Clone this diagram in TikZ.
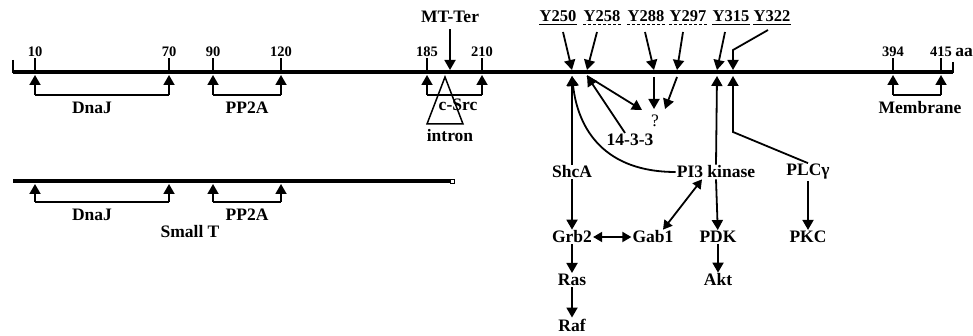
\documentclass[tikz,border=0pt]{standalone}
\usepackage{fontspec}
\setmainfont{Liberation Serif}
\usetikzlibrary{positioning, arrows.meta, calc}

\begin{document}
\begin{tikzpicture}[
    x=1pt, y=-1pt,
    lbl/.style={font=\fontsize{17.5}{19}\selectfont\bfseries, inner sep=1pt},
    tyr/.style={font=\fontsize{16.5}{18}\selectfont\bfseries, inner sep=0pt},
    num/.style={font=\fontsize{14.5}{16}\selectfont\bfseries, inner sep=1pt},
    chain/.style={line width=4pt},
    stem/.style={line width=1.8pt},
    edge/.style={stem, -{Triangle[width=11pt, length=10pt]}},
    dbl/.style={stem, {Triangle[width=10pt, length=9pt]}-{Triangle[width=10pt, length=9pt]}},
    uline/.style={line width=1.2pt},
    dline/.style={uline, dash pattern=on 3pt off 2pt}
]
\useasboundingbox (0,0) rectangle (973,336);

% ================= MIDDLE T =================
\coordinate (mL) at (13,72);
\coordinate (mR) at (953,72);
\draw[chain] (mL) -- (mR);
\draw[stem] ([yshift=12pt]mL) -- ([yshift=-1pt]mL);
\draw[stem] ([yshift=10pt]mR) -- ([yshift=-1pt]mR);

\foreach \n/\x in {10/35, 70/169, 90/213, 120/281, 185/427, 210/482, 394/893, 415/941} {
    \node[num] (n\n) at (\x,52) {\n};
    \coordinate (t\n) at (\x,75);
    \coordinate (b\n) at (\x,95);
    \draw[stem] (n\n.south) -- (\x,72);
    \draw[edge] (b\n) -- (t\n);
}
\node[lbl, right=1pt of n415] (aa) {aa};

\draw[stem] (b10) -- (b70);
\draw[stem] (b90) -- (b120);
\draw[stem] (b185) -- (b210);
\draw[stem] (b394) -- (b415);
\node[lbl] (dnaj) at (92,108) {DnaJ};
\node[lbl] (pp2a) at (247,108) {PP2A};
\node[lbl] (csrc) at (458,105) {c-Src};
\node[lbl] (membr) at (920,108) {Membrane};

% intron
\coordinate (iA) at (445,77);
\coordinate (iB) at (427,124);
\coordinate (iC) at (463,124);
\draw[stem, line width=1.5pt] (iA) -- (iB) -- (iC) -- cycle;
\node[lbl] (intron) at (450,136) {intron};

\node[lbl] (mtter) at (450,17) {MT-Ter};
\coordinate (tmt) at (450,70);
\draw[edge] ([yshift=-5pt]mtter.south) -- (tmt);

% tyrosines
\node[tyr] (y250) at (558,16) {Y250};
\node[tyr] (y258) at (602,16) {Y258};
\node[tyr] (y288) at (646,16) {Y288};
\node[tyr] (y297) at (688,16) {Y297};
\node[tyr] (y315) at (731,16) {Y315};
\node[tyr] (y322) at (772,16) {Y322};
\draw[uline] ([yshift=-3pt]y250.south west) -- ([yshift=-3pt]y250.south east);
\draw[dline] ([yshift=-3pt]y258.south west) -- ([yshift=-3pt]y258.south east);
\draw[dline] ([yshift=-3pt]y288.south west) -- ([yshift=-3pt]y288.south east);
\draw[dline] ([yshift=-3pt]y297.south west) -- ([yshift=-3pt]y297.south east);
\draw[uline] ([yshift=-3pt]y315.south west) -- ([yshift=-3pt]y315.south east);
\draw[uline] ([yshift=-3pt]y322.south west) -- ([yshift=-3pt]y322.south east);

\coordinate (s250) at (563,32);  \coordinate (u250) at (572,70);
\coordinate (s258) at (597,32);  \coordinate (u258) at (587,70);
\coordinate (s288) at (645,32);  \coordinate (u288) at (654,70);
\coordinate (s297) at (683,32);  \coordinate (u297) at (677,70);
\coordinate (s315) at (725,32);  \coordinate (u315) at (717,70);
\coordinate (s322) at (768,30);  \coordinate (k322a) at (733,50);
\coordinate (u322) at (733,70);
\draw[edge] (s250) -- (u250);
\draw[edge] (s258) -- (u258);
\draw[edge] (s288) -- (u288);
\draw[edge] (s297) -- (u297);
\draw[edge] (s315) -- (u315);
\draw[edge] (s322) -- (k322a) -- (u322);

% ================= SIGNALLING =================
\coordinate (t250) at (572,76);
\coordinate (t258) at (587,76);
\coordinate (t315) at (717,76);
\coordinate (t322) at (733,76);
\coordinate (k322) at (733,132);
\coordinate (d288) at (654,77);
\coordinate (d297) at (677,77);
\coordinate (q1) at (642,110);
\coordinate (q2) at (654,109);
\coordinate (q3) at (665,109);

\node[lbl] (shca) at (572,172) {ShcA};
\node[lbl] (pi3) at (716,172) {PI3 kinase};
\node[lbl] (plcg) at (808,172) {PLCγ};
\node[lbl] (k1433) at (630,140) {14-3-3};
\node[font=\fontsize{17.5}{19}\selectfont, inner sep=1pt] (qm) at (655,121) {?};
\node[lbl] (grb2) at (572,237) {Grb2};
\node[lbl] (gab1) at (653,237) {Gab1};
\node[lbl] (pdk) at (718,237) {PDK};
\node[lbl] (pkc) at (808,237) {PKC};
\node[lbl] (ras) at (572,280) {Ras};
\node[lbl] (akt) at (718,280) {Akt};
\node[lbl] (raf) at (572,325) {Raf};

\draw[edge] (shca) -- (t250);
\draw[edge] (pi3.west) .. controls (605,172) and (578,130) .. (t250);
\draw[edge] ([xshift=-5pt]k1433.north) -- (t258);
\draw[edge] (t258) -- (q1);
\draw[edge] (d288) -- (q2);
\draw[edge] (d297) -- (q3);
\draw[edge] (pi3.north) -- (t315);
\draw[edge] (plcg.north) -- (k322) -- (t322);

\draw[edge] (shca) -- (grb2);
\draw[dbl] (grb2) -- (gab1);
\draw[dbl] ([xshift=10pt]gab1.north) -- ([xshift=-14pt]pi3.south);
\draw[edge] (pi3.south) -- (pdk);
\draw[edge] (plcg) -- (pkc);
\draw[edge] (grb2) -- (ras);
\draw[edge] (ras) -- (raf);
\draw[edge] (pdk) -- (akt);

% ================= SMALL T =================
\coordinate (sL) at (13,181);
\coordinate (sR) at (450,181);
\draw[chain] (sL) -- (sR);
\node[draw, fill=white, line width=0.6pt, inner sep=0pt, minimum size=4pt, right=0pt of sR] (send) {};

\foreach \n/\x in {10/35, 70/169, 90/213, 120/281} {
    \coordinate (st\n) at (\x,184);
    \coordinate (sb\n) at (\x,202);
    \draw[edge] (sb\n) -- (st\n);
}
\draw[stem] (sb10) -- (sb70);
\draw[stem] (sb90) -- (sb120);
\node[lbl] (sdnaj) at (92,215) {DnaJ};
\node[lbl] (spp2a) at (247,215) {PP2A};
\node[lbl] (smallt) at (190,232) {Small T};

\end{tikzpicture}
\end{document}
